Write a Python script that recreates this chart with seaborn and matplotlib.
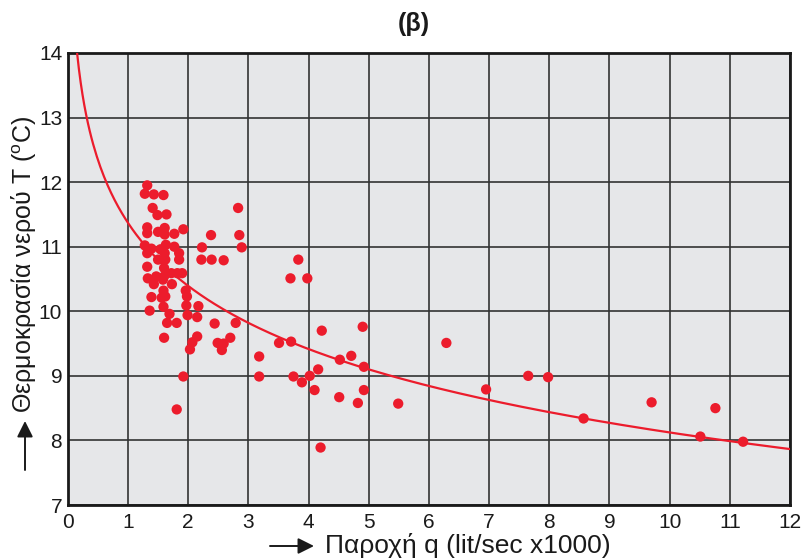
import numpy as np
import pandas as pd
import seaborn as sns
import matplotlib.pyplot as plt

# water discharge q (lit/sec x1000) and water temperature T (C)
q = [1.32, 1.28, 1.43, 1.59, 1.41, 1.49, 1.64, 1.32, 1.32, 1.50, 1.61, 1.61, 1.77, 1.92,
     1.28, 1.39, 1.54, 1.63, 1.77, 1.32, 1.61, 1.85, 1.50, 1.62, 1.85, 1.32, 1.60, 1.33,
     1.47, 1.60, 1.72, 1.82, 1.90, 1.43, 1.58, 1.73, 1.59, 1.96, 1.39, 1.56, 1.62, 1.98,
     1.36, 1.59, 1.97, 2.17, 1.69, 1.99, 2.15,
     2.83, 2.38, 2.85, 2.89, 2.23, 2.22, 2.39, 2.59,
     1.65, 1.81, 2.44, 2.79, 1.60, 2.15, 2.07, 2.03, 2.49, 2.59, 2.56, 2.70, 1.92, 1.81,
     3.83, 3.70, 3.98, 4.22, 4.90, 3.51, 3.71, 3.18, 3.18, 3.75, 3.89, 4.02, 4.16, 4.10,
     4.52, 4.71, 4.92, 4.92, 4.51, 4.82, 5.49, 4.20,
     6.29, 6.95, 7.65, 7.98, 8.57, 9.70, 10.76, 10.51, 11.22]
T = [11.95, 11.82, 11.81, 11.80, 11.60, 11.49, 11.50, 11.30, 11.21, 11.23, 11.29, 11.19, 11.20, 11.27,
     11.02, 10.97, 10.96, 11.03, 11.00, 10.90, 10.90, 10.90, 10.80, 10.80, 10.80, 10.69, 10.67, 10.51,
     10.54, 10.54, 10.59, 10.59, 10.59, 10.42, 10.49, 10.42, 10.32, 10.32, 10.22, 10.21, 10.23, 10.23,
     10.01, 10.07, 10.09, 10.08, 9.96, 9.94, 9.91,
     11.60, 11.18, 11.18, 10.99, 10.99, 10.80, 10.80, 10.79,
     9.82, 9.82, 9.81, 9.82, 9.59, 9.61, 9.52, 9.41, 9.51, 9.50, 9.40, 9.59, 8.99, 8.48,
     10.80, 10.51, 10.51, 9.70, 9.76, 9.51, 9.53, 9.30, 8.99, 8.99, 8.90, 9.00, 9.10, 8.78,
     9.25, 9.31, 9.14, 8.78, 8.67, 8.58, 8.57, 7.89,
     9.51, 8.79, 9.00, 8.98, 8.34, 8.59, 8.50, 8.06, 7.98]

# logarithmic trend line T = a - b*ln(q), coefficients
trend_a = 11.37
trend_b = 1.41

x_ticks = list(range(0, 13))
y_ticks = list(range(7, 15))

red = '#ec1c2c'
ink = '#1a1a1a'

sns.set_style('ticks', {
    'axes.facecolor': '#e6e7e9',
    'axes.edgecolor': ink,
    'grid.color': '#333333',
})
plt.rcParams['font.family'] = ['Liberation Sans', 'DejaVu Sans']
plt.rcParams['mathtext.fontset'] = 'custom'
plt.rcParams['mathtext.rm'] = 'Liberation Sans'

fig = plt.figure(figsize=(8.05, 5.59), dpi=100)
ax = fig.add_axes([0.0842, 0.0966, 0.8972, 0.8086])

df = pd.DataFrame({'q': q, 'T': T})
sns.scatterplot(data=df, x='q', y='T', color=red, s=55, edgecolor='none', ax=ax, zorder=3)

q_fit = np.linspace(0.155, 12, 400)
fit = pd.DataFrame({'q': q_fit, 'T': trend_a - trend_b * np.log(q_fit)})
sns.lineplot(data=fit, x='q', y='T', color=red, linewidth=1.6, ax=ax, zorder=4)

ax.set_xlim(0, 12)
ax.set_ylim(7, 14)
ax.set_xticks(x_ticks)
ax.set_yticks(y_ticks)
ax.grid(True, linewidth=1.2, color='#333333')
ax.set_axisbelow(True)
for side in ax.spines.values():
    side.set_linewidth(2)
ax.tick_params(length=0, labelsize=15, pad=4, colors=ink)
ax.tick_params(axis='x', pad=6)

ax.set_xlabel('')
ax.set_ylabel('')

# title and axis titles (positions in figure pixels, origin bottom-left)
H = 559
fig.text(414 / 805, 1 - 24 / H, '(β)', ha='center', va='center', fontsize=18,
         fontweight='bold', color=ink)
fig.text(325 / 805, 1 - 546 / H, 'Παροχή q (lit/sec x1000)', ha='left', va='center',
         fontsize=19, color=ink)
fig.text(24 / 805, 1 - 264 / H, 'Θερμοκρασία νερού T ($^{\\mathrm{o}}$C)', ha='center',
         va='center', rotation=90, fontsize=18, color=ink)

arrow = dict(arrowstyle='-|>', color=ink, lw=1.4, mutation_scale=24, shrinkA=0, shrinkB=0)
ax.annotate('', xy=(314, H - 546), xytext=(270, H - 546),
            xycoords='figure pixels', textcoords='figure pixels', arrowprops=arrow)
ax.annotate('', xy=(25, H - 421), xytext=(25, H - 470),
            xycoords='figure pixels', textcoords='figure pixels', arrowprops=arrow)

fig.savefig('out.png', dpi=100)
